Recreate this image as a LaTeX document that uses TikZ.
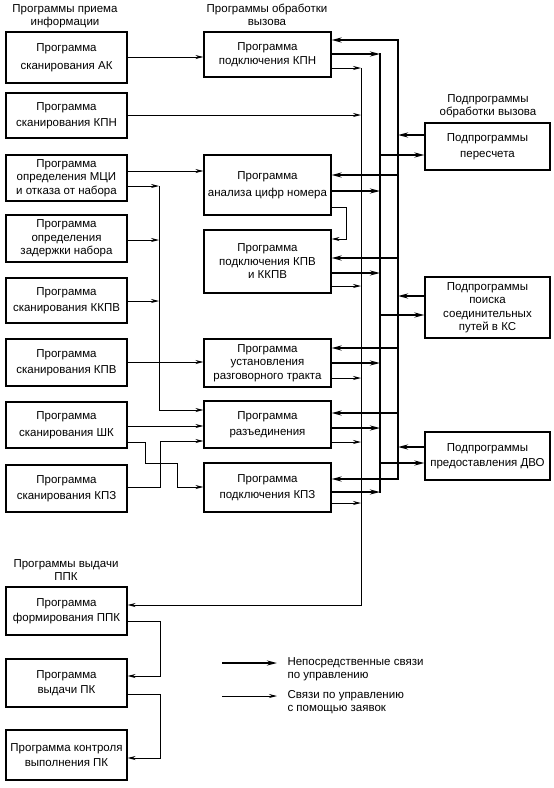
\documentclass[tikz,border=0pt]{standalone}
\usepackage{fontspec}
\setmainfont{Liberation Sans}
\usetikzlibrary{arrows.meta}
\begin{document}
\begin{tikzpicture}[x=1pt,y=-1pt,
  txt/.style={font=\fontsize{11.5}{13.5}\selectfont, align=center},
  box/.style={txt, draw, line width=1.1pt, inner sep=1pt},
  lbox/.style={box, minimum width=121pt},
  mbox/.style={box, minimum width=127pt},
  rbox/.style={box, minimum width=125pt},
  req/.style={line width=0.8pt, -{Stealth[length=8pt,width=4pt]}},
  reql/.style={line width=0.8pt},
  dir/.style={line width=1.8pt, -{Stealth[length=10pt,width=5pt]}},
  dirl/.style={line width=1.8pt, line cap=rect}
]
\useasboundingbox (0,0) rectangle (554,788);

% headers
\node[txt] (h1) at (65,16) {Программы приема\\информации};
\node[txt] (h2) at (267,15) {Программы обработки\\вызова};
\node[txt] (h3) at (488,106) {Подпрограммы\\обработки вызова};
\node[txt] (h4) at (66,570) {Программы выдачи\\ППК};

% left column
\node[lbox, minimum height=51pt] (L1) at (66.5,57.5) {Программа\\[4pt]сканирования АК};
\node[lbox, minimum height=45pt] (L2) at (66.5,115.5) {Программа\\[3pt]сканирования КПН};
\node[lbox, minimum height=46pt] (L3) at (66.5,178) {Программа\\определения МЦИ\\и отказа от набора};
\node[lbox, minimum height=47pt] (L4) at (66.5,238.5) {Программа\\определения\\задержки набора};
\node[lbox, minimum height=45pt] (L5) at (66.5,300.5) {Программа\\[3pt]сканирования ККПВ};
\node[lbox, minimum height=47pt] (L6) at (66.5,362.5) {Программа\\[3pt]сканирования КПВ};
\node[lbox, minimum height=46pt] (L7) at (66.5,425) {Программа\\[3pt]сканирования ШК};
\node[lbox, minimum height=47pt] (L8) at (66.5,488.5) {Программа\\[3pt]сканирования КПЗ};
\node[lbox, minimum height=48pt] (L9) at (66.5,611) {Программа\\[2pt]формирования ППК};
\node[lbox, minimum height=48pt] (L10) at (66.5,683) {Программа\\[2pt]выдачи ПК};
\node[lbox, minimum height=50pt] (L11) at (66.5,755) {Программа контроля\\[2pt]выполнения ПК};

% middle column
\node[mbox, minimum height=45pt] (M1) at (267.5,54.5) {Программа\\подключения КПН};
\node[mbox, minimum height=60pt] (M2) at (267.5,185) {Программа\\[3pt]анализа цифр номера};
\node[mbox, minimum height=63pt] (M3) at (267.5,261.5) {Программа\\подключения КПВ\\и ККПВ};
\node[mbox, minimum height=48pt] (M4) at (267.5,363) {Программа\\установления\\разговорного тракта};
\node[mbox, minimum height=47pt] (M5) at (267.5,424.5) {Программа\\[3pt]разъединения};
\node[mbox, minimum height=49pt] (M6) at (267.5,487.5) {Программа\\[2pt]подключения КПЗ};

% right column
\node[rbox, minimum height=47pt] (R1) at (487.5,146.5) {Подпрограммы\\[2pt]пересчета};
\node[rbox, minimum height=61pt] (R2) at (487.5,307.5) {Подпрограммы\\поиска\\соединительных\\путей в КС};
\node[rbox, minimum height=48pt] (R3) at (487.5,456) {Подпрограммы\\[2pt]предоставления ДВО};

% bus coordinates
\coordinate (busA) at (361,0);
\coordinate (busB) at (380,0);
\coordinate (busC) at (398,0);
\coordinate (col) at (159,0);

% buses
\draw[dirl] (busC |- 0,40) -- (busC |- 0,479);
\draw[dirl] (busB |- 0,54) -- (busB |- 0,492);
\draw[req] (busA |- 0,68) -- (busA |- 0,605) -- (L9.east |- 0,605);

% bus C -> middle
\foreach \m/\y in {M1/40, M2/175, M3/258, M4/348, M5/413, M6/479}
  \draw[dir] (busC |- 0,\y) -- (\m.east |- 0,\y);
% middle -> bus B
\foreach \m/\y in {M1/54, M2/191, M3/273, M4/363, M5/428, M6/492}
  \draw[dir] (\m.east |- 0,\y) -- (busB |- 0,\y);
% middle -> bus A
\foreach \m/\y in {M1/68, M3/286, M4/378, M5/442, M6/503}
  \draw[req] (\m.east |- 0,\y) -- (busA |- 0,\y);
% right boxes -> bus C
\foreach \r/\y in {R1/135, R2/296, R3/447}
  \draw[dir] (\r.west |- 0,\y) -- (busC |- 0,\y);
% bus B -> right boxes
\foreach \r/\y in {R1/155, R2/315, R3/463}
  \draw[dir] (busB |- 0,\y) -- (\r.west |- 0,\y);

% M2 -> M3
\draw[req] (M2.east |- 0,207) -- (346,207) -- (346,239) -- (M3.east |- 0,239);

% left column connectors
\draw[req] (L1.east |- 0,57) -- (M1.west |- 0,57);
\draw[req] (L2.east |- 0,115) -- (busA |- 0,115);
\draw[req] (L3.east |- 0,171) -- (M2.west |- 0,171);
\draw[req] (L3.east |- 0,186) -- (col |- 0,186);
\draw[req] (L4.east |- 0,240) -- (col |- 0,240);
\draw[req] (L5.east |- 0,301) -- (col |- 0,301);
\draw[req] (col |- 0,186) -- (col |- 0,410) -- (M5.west |- 0,410);
\draw[req] (L6.east |- 0,362) -- (M4.west |- 0,362);
\draw[req] (L7.east |- 0,426) -- (M5.west |- 0,426);
\draw[req] (L7.east |- 0,442) -- (145,442) -- (145,463) -- (177,463) -- (177,487) -- (M6.west |- 0,487);
\draw[req] (L8.east |- 0,487) -- (160,487) -- (160,441) -- (M5.west |- 0,441);

% bottom connectors
\draw[req] (L9.east |- 0,621) -- (160,621) -- (160,676) -- (L10.east |- 0,676);
\draw[req] (L10.east |- 0,694) -- (160,694) -- (160,758) -- (L11.east |- 0,758);

% legend
\coordinate (lg1a) at (222,663);
\coordinate (lg1b) at (277,663);
\coordinate (lg2a) at (222,696);
\coordinate (lg2b) at (277,696);
\draw[dir] (lg1a) -- (lg1b);
\draw[req] (lg2a) -- (lg2b);
\node[txt, align=left, anchor=west] (lt1) at (284,669) {Непосредственные связи\\по управлению};
\node[txt, align=left, anchor=west] (lt2) at (284,702) {Связи по управлению\\с помощью заявок};
\end{tikzpicture}
\end{document}
